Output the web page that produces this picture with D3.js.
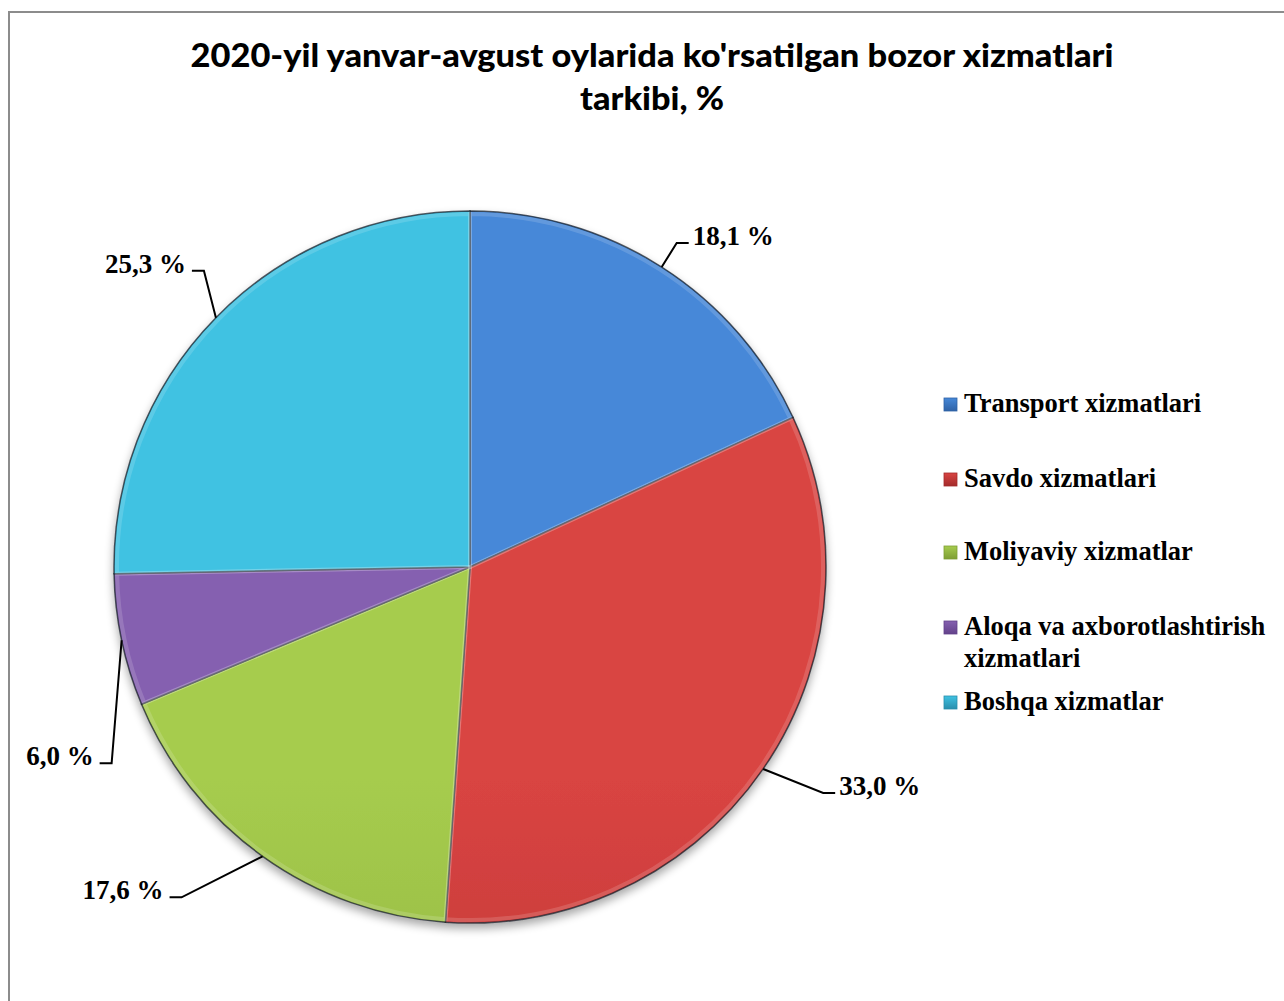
<!DOCTYPE html>
<html>
<head>
<meta charset="utf-8">
<script src="https://cdn.jsdelivr.net/npm/d3@7"></script>
<style>
  body { margin: 0; background: white; }
  svg { display: block; }
</style>
</head>
<body>
<script>
// chart data
var categories = ["Transport xizmatlari", "Savdo xizmatlari", "Moliyaviy xizmatlar", "Aloqa va axborotlashtirish xizmatlari", "Boshqa xizmatlar"]
var values = [18.1, 33.0, 17.6, 6.0, 25.3]
var valueLabels = ["18,1 %", "33,0 %", "17,6 %", "6,0 %", "25,3 %"]
var titleLines = ["2020-yil yanvar-avgust oylarida ko'rsatilgan bozor xizmatlari", "tarkibi, %"]

// layout / style
var width = 1284
var height = 1001
var cx = 470, cy = 567, radius = 356
var colorsTop = ["#4688d8", "#d94442", "#a6cc4e", "#8560b0", "#3fc2e2"]
var colorsBottom = ["#2f62a6", "#a32b2b", "#7e9e34", "#63428a", "#2a8eac"]
// elbow offset of each leader line from the slice edge
var labelElbow = [[15, -24], [60, 24], [-81, 41], [-10, 123], [-12, -47]]
var legendRows = [[412], [487], [560], [635, 667], [710]]
var legendLines = [["Transport xizmatlari"], ["Savdo xizmatlari"], ["Moliyaviy xizmatlar"], ["Aloqa va axborotlashtirish", "xizmatlari"], ["Boshqa xizmatlar"]]

var svg = d3.select("body")
    .append("svg")
    .attr("width", width)
    .attr("height", height)

var defs = svg.append("defs")

var shadow = defs.append("filter")
    .attr("id", "shadow")
    .attr("x", "-20%").attr("y", "-20%")
    .attr("width", "140%").attr("height", "140%")
shadow.append("feGaussianBlur").attr("in", "SourceAlpha").attr("stdDeviation", 5)
shadow.append("feOffset").attr("dx", 0).attr("dy", 5).attr("result", "blur")
shadow.append("feComponentTransfer").append("feFuncA").attr("type", "linear").attr("slope", 0.35)
var merge = shadow.append("feMerge")
merge.append("feMergeNode")
merge.append("feMergeNode").attr("in", "SourceGraphic")

categories.forEach(function (c, i) {
    var g = defs.append("linearGradient")
        .attr("id", "grad" + i)
        .attr("gradientUnits", "userSpaceOnUse")
        .attr("x1", 0).attr("y1", cy - radius)
        .attr("x2", 0).attr("y2", cy + radius)
    g.append("stop").attr("offset", "0%").attr("stop-color", colorsTop[i])
    g.append("stop").attr("offset", "100%").attr("stop-color", colorsBottom[i])

    var m = defs.append("linearGradient")
        .attr("id", "mark" + i)
        .attr("x1", 0).attr("y1", 0).attr("x2", 0).attr("y2", 1)
    m.append("stop").attr("offset", "0%").attr("stop-color", colorsTop[i])
    m.append("stop").attr("offset", "100%").attr("stop-color", colorsBottom[i])
})

// chart border (only top and left edges visible)
svg.append("path")
    .attr("d", "M 9,1001 L 9,12 L 1284,12")
    .attr("fill", "none")
    .attr("stroke", "#8c8c8c")
    .attr("stroke-width", 2)

// title
svg.append("g").selectAll("text")
    .data(titleLines)
    .enter()
    .append("text")
    .attr("x", 652)
    .attr("y", function (d, i) { return 67 + i * 43 })
    .attr("text-anchor", "middle")
    .attr("font-family", "Lato, 'Open Sans', sans-serif")
    .attr("font-weight", 900)
    .attr("font-size", 32)
    .attr("fill", "#000")
    .attr("textLength", function (d, i) { return i === 0 ? 923 : 144 })
    .attr("lengthAdjust", "spacingAndGlyphs")
    .text(function (d) { return d })

// pie
var pie = d3.pie().sort(null).value(function (d) { return d })
var arcs = pie(values)
var arc = d3.arc().innerRadius(0).outerRadius(radius)
var bevel = d3.arc().innerRadius(0).outerRadius(radius - 3)

var pieG = svg.append("g")
    .attr("transform", "translate(" + cx + "," + cy + ")")

pieG.append("g")
    .attr("filter", "url(#shadow)")
    .selectAll("path")
    .data(arcs)
    .enter()
    .append("path")
    .attr("d", arc)
    .attr("fill", function (d, i) { return "url(#grad" + i + ")" })
    .attr("stroke", "#1c232c")
    .attr("stroke-opacity", 0.75)
    .attr("stroke-width", 1.5)

// soft bevel highlight on each slice
pieG.append("g")
    .selectAll("path")
    .data(arcs)
    .enter()
    .append("path")
    .attr("d", bevel)
    .attr("fill", "none")
    .attr("stroke", "white")
    .attr("stroke-opacity", 0.15)
    .attr("stroke-width", 4)

// data labels with leader lines
var labels = svg.append("g")
arcs.forEach(function (d, i) {
    var mid = (d.startAngle + d.endAngle) / 2
    var ex = cx + radius * Math.sin(mid)
    var ey = cy - radius * Math.cos(mid)
    var bx = ex + labelElbow[i][0]
    var by = ey + labelElbow[i][1]
    var right = Math.sin(mid) > 0
    var hx = right ? bx + 12 : bx - 12

    labels.append("path")
        .attr("d", "M " + ex + "," + ey + " L " + bx + "," + by + " L " + hx + "," + by)
        .attr("fill", "none")
        .attr("stroke", "#000")
        .attr("stroke-width", 2)

    labels.append("text")
        .attr("x", right ? hx + 4 : hx - 6)
        .attr("y", by + 2)
        .attr("text-anchor", right ? "start" : "end")
        .attr("font-family", "'Liberation Serif', 'Times New Roman', serif")
        .attr("font-weight", "bold")
        .attr("font-size", 27)
        .attr("fill", "#000")
        .text(valueLabels[i])
})

// legend
var legend = svg.append("g")
categories.forEach(function (c, i) {
    var base = legendRows[i][0]
    legend.append("rect")
        .attr("x", 944)
        .attr("y", base - 14)
        .attr("width", 13)
        .attr("height", 13)
        .attr("fill", "url(#mark" + i + ")")
        .attr("stroke", colorsBottom[i])
        .attr("stroke-width", 0.8)

    legendLines[i].forEach(function (line, j) {
        legend.append("text")
            .attr("x", 964)
            .attr("y", legendRows[i][j])
            .attr("font-family", "'Liberation Serif', 'Times New Roman', serif")
            .attr("font-weight", "bold")
            .attr("font-size", 26.5)
            .attr("fill", "#000")
            .text(line)
    })
})
</script>
</body>
</html>
